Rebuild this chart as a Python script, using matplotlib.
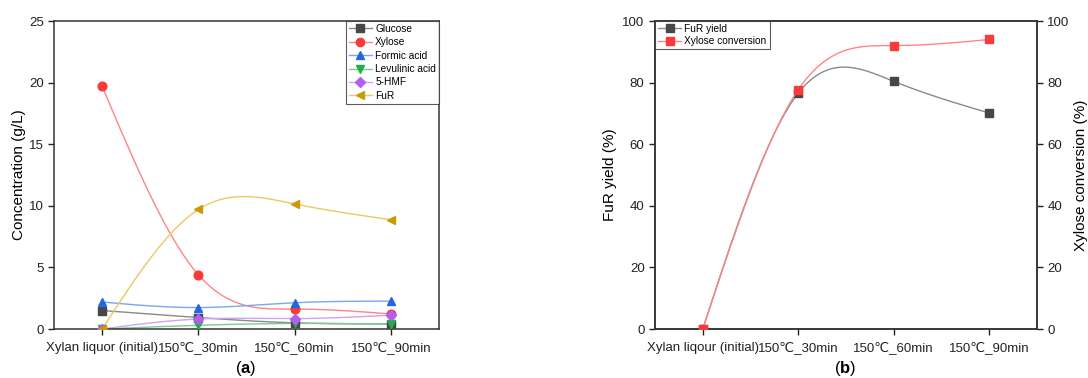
import numpy as np
import matplotlib
matplotlib.use("Agg")
import matplotlib.pyplot as plt

plt.rcParams['font.family'] = ['Liberation Sans', 'DejaVu Sans', 'Noto Sans CJK SC']
plt.rcParams['mathtext.fontset'] = 'custom'
plt.rcParams['mathtext.rm'] = 'Liberation Sans'
plt.rcParams['mathtext.bf'] = 'Liberation Sans:bold'

# ---- data ----
cats_a = ["Xylan liquor (initial)", "150\u2103_30min", "150\u2103_60min", "150\u2103_90min"]
cats_b = ["Xylan liqour (initial)", "150\u2103_30min", "150\u2103_60min", "150\u2103_90min"]

glucose = [1.5, 0.93, 0.5, 0.42]
xylose = [19.7, 4.4, 1.62, 1.22]
formic = [2.19, 1.74, 2.13, 2.26]
levulinic = [0.0, 0.3, 0.45, 0.4]
hmf = [0.0, 0.81, 0.84, 1.12]
fur = [0.0, 9.7, 10.15, 8.87]

fur_yield = [0.0, 76.6, 80.4, 70.1]
xyl_conv = [0.0, 77.7, 92.0, 94.0]


def natural_spline(y, n=200):
    y = np.asarray(y, float)
    k = len(y)
    A = np.zeros((k, k))
    b = np.zeros(k)
    A[0, 0] = 1
    A[-1, -1] = 1
    for i in range(1, k - 1):
        A[i, i - 1] = 1
        A[i, i] = 4
        A[i, i + 1] = 1
        b[i] = 6 * (y[i - 1] - 2 * y[i] + y[i + 1])
    M = np.linalg.solve(A, b)
    xs = np.linspace(0, k - 1, n)
    ys = np.empty_like(xs)
    for j, xv in enumerate(xs):
        i = min(int(np.floor(xv)), k - 2)
        t = xv - i
        ys[j] = ((1 - t) * y[i] + t * y[i + 1]
                 - t * (1 - t) / 6 * ((2 - t) * M[i] + (1 + t) * M[i + 1]))
    return xs, ys


W, H = 1088, 378
fig = plt.figure(figsize=(W / 100, H / 100), dpi=100)

ax1 = fig.add_axes([54 / W, 1 - 329 / H, 385 / W, 308 / H])
ax2 = fig.add_axes([655 / W, 1 - 329 / H, 382 / W, 308 / H])

series = [
    ("Glucose", glucose, "s", "#474747", "#8a8a8a"),
    ("Xylose", xylose, "o", "#f93a3a", "#ff8585"),
    ("Formic acid", formic, "^", "#2466e0", "#7aa6ee"),
    ("Levulinic acid", levulinic, "v", "#1fae4c", "#7acb93"),
    ("5-HMF", hmf, "D", "#b45ef0", "#cfa2f3"),
    ("FuR", fur, "<", "#cc9a05", "#ecc862"),
]
x = np.arange(4)
handles = []
for name, vals, mk, mc, lc in series:
    xs, ys = natural_spline(vals)
    ax1.plot(xs, ys, color=lc, lw=1.0, zorder=2)
    ax1.plot(x, vals, linestyle='none', marker=mk, color=mc,
             markersize=6.3 if mk != "D" else 5.2, zorder=3)
    h, = ax1.plot([], [], color=lc, lw=1.0, marker=mk, markerfacecolor=mc,
                  markeredgecolor=mc, markersize=6 if mk != "D" else 5)
    handles.append((h, name))

ax1.set_xlim(-0.5, 3.5)
ax1.set_ylim(0, 25)
ax1.set_yticks([0, 5, 10, 15, 20, 25])
ax1.set_xticks(x)
ax1.set_xticklabels(cats_a)
ax1.set_ylabel("Concentration (g/L)", fontsize=11, labelpad=2)
leg1 = ax1.legend([h for h, _ in handles], [n for _, n in handles],
                  loc="upper right", fontsize=7.3, frameon=True, fancybox=False,
                  borderaxespad=0.0, handlelength=2.3, handletextpad=0.3,
                  labelspacing=0.33, borderpad=0.3)
leg1.get_frame().set_edgecolor("#333333")
leg1.get_frame().set_linewidth(0.8)

# ---- panel b ----
ax3 = ax2.twinx()
xs, ys = natural_spline(fur_yield)
ax2.plot(xs, ys, color="#8a8a8a", lw=1.0, zorder=2)
ax2.plot(x, fur_yield, linestyle='none', marker="s", color="#474747", markersize=5.5, zorder=3)
xs, ys = natural_spline(xyl_conv)
ax3.plot(xs, ys, color="#ff8585", lw=1.0, zorder=2)
ax3.plot(x, xyl_conv, linestyle='none', marker="s", color="#f93a3a", markersize=5.5, zorder=3)

hb1, = ax2.plot([], [], color="#8a8a8a", lw=1.0, marker="s", markerfacecolor="#474747",
                markeredgecolor="#474747", markersize=5.5)
hb2, = ax2.plot([], [], color="#ff8585", lw=1.0, marker="s", markerfacecolor="#f93a3a",
                markeredgecolor="#f93a3a", markersize=5.5)

for a in (ax2, ax3):
    a.set_xlim(-0.5, 3.5)
    a.set_ylim(0, 100)
    a.set_yticks([0, 20, 40, 60, 80, 100])
ax2.set_xticks(x)
ax2.set_xticklabels(cats_b)
ax2.set_ylabel("FuR yield (%)", fontsize=11)
ax3.set_ylabel("Xylose conversion (%)", fontsize=11, labelpad=3)
leg2 = ax3.legend([hb1, hb2], ["FuR yield", "Xylose conversion"], loc="upper left",
                  fontsize=7.3, frameon=True, fancybox=False, borderaxespad=0.0,
                  handlelength=2.3, handletextpad=0.3, labelspacing=0.2, borderpad=0.3)
leg2.get_frame().set_edgecolor("#333333")
leg2.get_frame().set_linewidth(0.8)

for a in (ax1, ax2, ax3):
    a.tick_params(direction="out", length=4, width=1, labelsize=9.5, colors="#222222")
    for s in a.spines.values():
        s.set_linewidth(1.1)
        s.set_color("#333333")
for a in (ax1, ax2):
    a.tick_params(axis="x", pad=12)
    for lab in a.get_xticklabels():
        lab.set_verticalalignment("baseline")

fig.text(246 / W, 1 - 368 / H, r"($\mathbf{a}$)", ha="center", va="center", fontsize=12)
fig.text(845 / W, 1 - 368 / H, r"($\mathbf{b}$)", ha="center", va="center", fontsize=12)

fig.savefig("out.png", dpi=100)
